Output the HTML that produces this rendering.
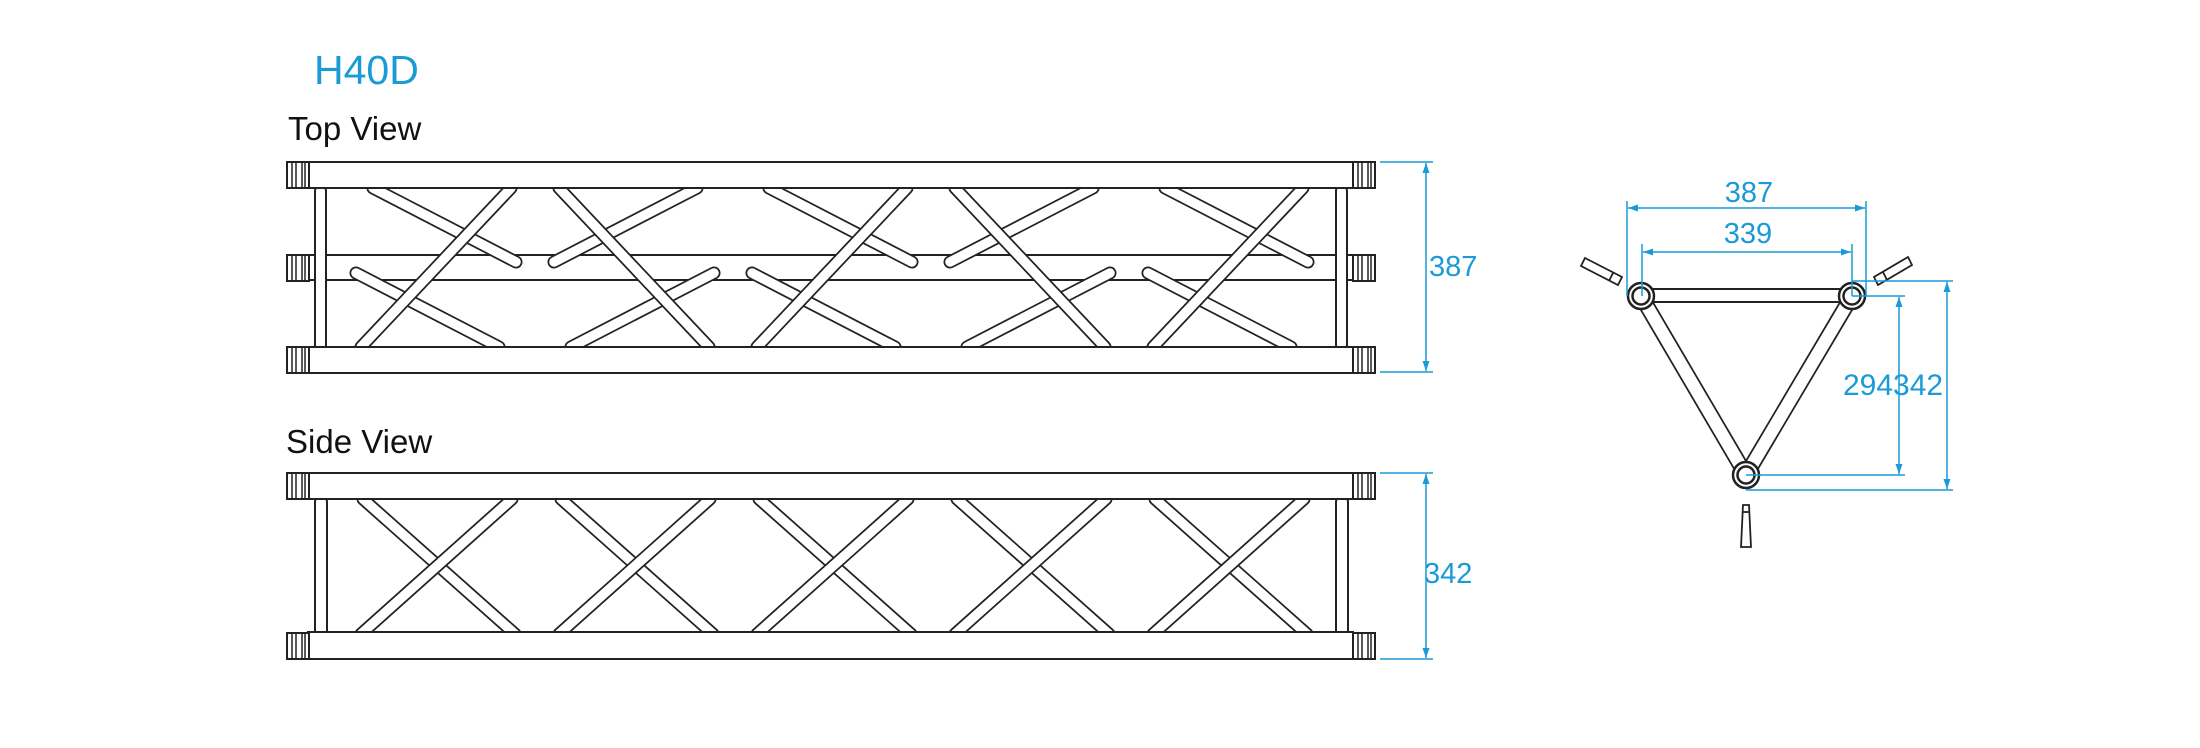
<!DOCTYPE html>
<html><head><meta charset="utf-8"><style>
html,body{margin:0;padding:0;background:#fff;}
svg{display:block;}
text{font-family:"Liberation Sans",sans-serif;}
</style></head><body>
<svg width="2200" height="748" viewBox="0 0 2200 748" xmlns="http://www.w3.org/2000/svg">
<defs>
<marker id="ar" viewBox="0 0 10 10" refX="10" refY="5" markerWidth="10" markerHeight="10" markerUnits="userSpaceOnUse" orient="auto-start-reverse"><path d="M0,1.5 L10,5 L0,8.5 z" fill="#1a9ad6"/></marker>
<g id="cap"><rect x="0" y="0" width="22" height="26" fill="#fff" stroke="#222" stroke-width="2"/><line x1="5" y1="0" x2="5" y2="26" stroke="#222" stroke-width="1.5"/><line x1="9" y1="0" x2="9" y2="26" stroke="#222" stroke-width="1.5"/><line x1="15" y1="0" x2="15" y2="26" stroke="#222" stroke-width="1.5"/><line x1="18" y1="0" x2="18" y2="26" stroke="#222" stroke-width="1.5"/></g>
</defs>

<text x="314" y="84" font-size="41" fill="#1a9ad6">H40D</text>
<text x="288" y="140" font-size="33" fill="#111">Top View</text>
<text x="286" y="453" font-size="33" fill="#111">Side View</text>

<!-- TOP VIEW -->
<rect x="308" y="255" width="1045" height="25" fill="#fff" stroke="#222" stroke-width="2"/>
<g id="topdiag" stroke-linecap="round">
<g>
<line x1="373" y1="188" x2="516" y2="262" stroke="#222" stroke-width="13"/><line x1="373" y1="188" x2="516" y2="262" stroke="#fff" stroke-width="9.5"/>
<line x1="356" y1="273" x2="499" y2="347" stroke="#222" stroke-width="13"/><line x1="356" y1="273" x2="499" y2="347" stroke="#fff" stroke-width="9.5"/>
<line x1="361" y1="347" x2="511" y2="188" stroke="#222" stroke-width="13"/><line x1="361" y1="347" x2="511" y2="188" stroke="#fff" stroke-width="9.5"/>
</g>
<g>
<line x1="697" y1="188" x2="554" y2="262" stroke="#222" stroke-width="13"/><line x1="697" y1="188" x2="554" y2="262" stroke="#fff" stroke-width="9.5"/>
<line x1="714" y1="273" x2="571" y2="347" stroke="#222" stroke-width="13"/><line x1="714" y1="273" x2="571" y2="347" stroke="#fff" stroke-width="9.5"/>
<line x1="559" y1="188" x2="709" y2="347" stroke="#222" stroke-width="13"/><line x1="559" y1="188" x2="709" y2="347" stroke="#fff" stroke-width="9.5"/>
</g>
<g>
<line x1="769" y1="188" x2="912" y2="262" stroke="#222" stroke-width="13"/><line x1="769" y1="188" x2="912" y2="262" stroke="#fff" stroke-width="9.5"/>
<line x1="752" y1="273" x2="895" y2="347" stroke="#222" stroke-width="13"/><line x1="752" y1="273" x2="895" y2="347" stroke="#fff" stroke-width="9.5"/>
<line x1="757" y1="347" x2="907" y2="188" stroke="#222" stroke-width="13"/><line x1="757" y1="347" x2="907" y2="188" stroke="#fff" stroke-width="9.5"/>
</g>
<g>
<line x1="1093" y1="188" x2="950" y2="262" stroke="#222" stroke-width="13"/><line x1="1093" y1="188" x2="950" y2="262" stroke="#fff" stroke-width="9.5"/>
<line x1="1110" y1="273" x2="967" y2="347" stroke="#222" stroke-width="13"/><line x1="1110" y1="273" x2="967" y2="347" stroke="#fff" stroke-width="9.5"/>
<line x1="955" y1="188" x2="1105" y2="347" stroke="#222" stroke-width="13"/><line x1="955" y1="188" x2="1105" y2="347" stroke="#fff" stroke-width="9.5"/>
</g>
<g>
<line x1="1165" y1="188" x2="1308" y2="262" stroke="#222" stroke-width="13"/><line x1="1165" y1="188" x2="1308" y2="262" stroke="#fff" stroke-width="9.5"/>
<line x1="1148" y1="273" x2="1291" y2="347" stroke="#222" stroke-width="13"/><line x1="1148" y1="273" x2="1291" y2="347" stroke="#fff" stroke-width="9.5"/>
<line x1="1153" y1="347" x2="1303" y2="188" stroke="#222" stroke-width="13"/><line x1="1153" y1="347" x2="1303" y2="188" stroke="#fff" stroke-width="9.5"/>
</g>
</g>
<rect x="315" y="186" width="11" height="164" rx="5" fill="#fff" stroke="#222" stroke-width="2"/>
<rect x="1336" y="186" width="11" height="164" rx="5" fill="#fff" stroke="#222" stroke-width="2"/>
<rect x="308" y="162" width="1045" height="26" fill="#fff" stroke="#222" stroke-width="2"/>
<rect x="308" y="347" width="1045" height="26" fill="#fff" stroke="#222" stroke-width="2"/>
<use href="#cap" x="287" y="162"/><use href="#cap" x="287" y="255"/><use href="#cap" x="287" y="347"/>
<use href="#cap" x="1353" y="162"/><use href="#cap" x="1353" y="255"/><use href="#cap" x="1353" y="347"/>

<g stroke="#1a9ad6" stroke-width="1.5">
<line x1="1380" y1="162" x2="1433" y2="162"/><line x1="1380" y1="372" x2="1433" y2="372"/>
<line x1="1426" y1="163" x2="1426" y2="371" marker-start="url(#ar)" marker-end="url(#ar)"/>
</g>
<text x="1429" y="276" font-size="29" fill="#1a9ad6">387</text>

<!-- SIDE VIEW -->
<g stroke-linecap="round">
<g id="sx">
<line x1="363" y1="499" x2="515" y2="634" stroke="#222" stroke-width="13"/><line x1="363" y1="499" x2="515" y2="634" stroke="#fff" stroke-width="9.5"/>
<line x1="361" y1="634" x2="512" y2="499" stroke="#222" stroke-width="13"/><line x1="361" y1="634" x2="512" y2="499" stroke="#fff" stroke-width="9.5"/>
</g>
<use href="#sx" x="198"/><use href="#sx" x="396"/><use href="#sx" x="594"/><use href="#sx" x="792"/>
</g>
<rect x="315" y="497" width="12" height="160" rx="5" fill="#fff" stroke="#222" stroke-width="2"/>
<rect x="1336" y="497" width="12" height="160" rx="5" fill="#fff" stroke="#222" stroke-width="2"/>
<rect x="308" y="473" width="1045" height="26" fill="#fff" stroke="#222" stroke-width="2"/>
<rect x="308" y="632" width="1045" height="27" fill="#fff" stroke="#222" stroke-width="2"/>
<use href="#cap" x="287" y="473"/><use href="#cap" x="287" y="633"/>
<use href="#cap" x="1353" y="473"/><use href="#cap" x="1353" y="633"/>

<g stroke="#1a9ad6" stroke-width="1.5">
<line x1="1380" y1="473" x2="1433" y2="473"/><line x1="1380" y1="659" x2="1433" y2="659"/>
<line x1="1426" y1="474" x2="1426" y2="658" marker-start="url(#ar)" marker-end="url(#ar)"/>
</g>
<text x="1424" y="583" font-size="29" fill="#1a9ad6">342</text>

<!-- SECTION -->
<g stroke-linecap="butt">
<line x1="1641" y1="296" x2="1746" y2="475" stroke="#222" stroke-width="16"/><line x1="1641" y1="296" x2="1746" y2="475" stroke="#fff" stroke-width="12.5"/>
<line x1="1852" y1="296" x2="1746" y2="475" stroke="#222" stroke-width="16"/><line x1="1852" y1="296" x2="1746" y2="475" stroke="#fff" stroke-width="12.5"/>
<rect x="1641" y="289" width="211" height="13" fill="#fff" stroke="#222" stroke-width="2"/>
</g>
<g fill="#fff" stroke="#222" stroke-width="2.5">
<circle cx="1641" cy="296" r="13"/><circle cx="1641" cy="296" r="8.5"/>
<circle cx="1852" cy="296" r="13"/><circle cx="1852" cy="296" r="8.5"/>
<circle cx="1746" cy="475" r="13"/><circle cx="1746" cy="475" r="8.5"/>
</g>
<g fill="#fff" stroke="#222" stroke-width="1.8">
<polygon points="1585,258 1622,277 1618,285 1581,266"/>
<line x1="1613" y1="273" x2="1609" y2="281"/>
<polygon points="1908,257 1912,265 1878,285 1874,277"/>
<line x1="1883" y1="272" x2="1887" y2="280"/>
<polygon points="1743,505 1749,505 1751,547 1741,547"/>
<line x1="1743" y1="512" x2="1749" y2="512"/>
</g>
<g stroke="#1a9ad6" stroke-width="1.5" fill="none">
<line x1="1627" y1="201" x2="1627" y2="296"/><line x1="1866" y1="201" x2="1866" y2="296"/>
<line x1="1628" y1="208" x2="1865" y2="208" marker-start="url(#ar)" marker-end="url(#ar)"/>
<line x1="1642" y1="244" x2="1642" y2="296"/><line x1="1852" y1="244" x2="1852" y2="296"/>
<line x1="1643" y1="252" x2="1851" y2="252" marker-start="url(#ar)" marker-end="url(#ar)"/>
<line x1="1852" y1="281" x2="1953" y2="281"/><line x1="1746" y1="490" x2="1953" y2="490"/>
<line x1="1947" y1="282" x2="1947" y2="489" marker-start="url(#ar)" marker-end="url(#ar)"/>
<line x1="1852" y1="296" x2="1905" y2="296"/><line x1="1746" y1="475" x2="1905" y2="475"/>
<line x1="1899" y1="297" x2="1899" y2="474" marker-start="url(#ar)" marker-end="url(#ar)"/>
</g>
<text x="1749" y="202" font-size="29" fill="#1a9ad6" text-anchor="middle">387</text>
<text x="1748" y="243" font-size="29" fill="#1a9ad6" text-anchor="middle">339</text>
<text x="1843" y="395" font-size="30" fill="#1a9ad6">294342</text>
</svg>
</body></html>
